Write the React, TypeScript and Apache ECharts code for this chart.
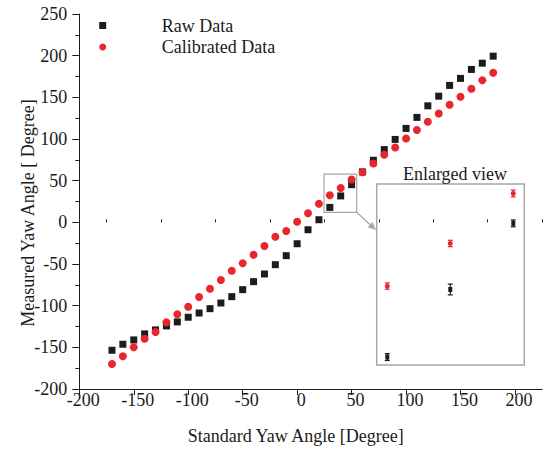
import React, { useEffect, useRef } from "react";
import * as echarts from "echarts";

// ---- data ----
const standardAngles = [
  -170, -160, -150, -140, -130, -120, -110, -100, -90, -80, -70, -60, -50, -40, -30, -20, -10, 0,
  10, 20, 30, 40, 50, 60, 70, 80, 90, 100, 110, 120, 130, 140, 150, 160, 170, 180,
];
const rawData = [
  -153.5, -146.3, -141.1, -133.9, -129.1, -124.3, -119.5, -113.9, -108.8, -103.6, -96.8, -89.2,
  -80.8, -71.2, -62.0, -50.8, -40.0, -25.7, -8.9, 3.1, 17.9, 31.7, 45.2, 60.5, 74.5, 87.3, 99.5,
  112.7, 125.9, 139.8, 151.4, 164.3, 172.7, 183.5, 191.0, 199.4,
];
const calibratedData = [
  -169.9, -160.7, -149.9, -139.6, -131.5, -119.9, -110.3, -101.2, -89.6, -79.6, -69.2, -58.0,
  -49.2, -38.8, -28.4, -17.3, -10.4, 0.7, 10.8, 22.3, 32.4, 41.1, 51.3, 60.0, 70.7, 81.1, 89.9,
  100.7, 110.7, 120.6, 130.7, 141.0, 150.6, 160.2, 170.6, 179.4,
];
// enlarged view: angles and error bars
const insetAngles = [30, 40, 50];
const rawErr = [0.7, 1.1, 0.7];
const calibratedErr = [0.65, 0.65, 0.7];
// zoom window in the main plot
const zoomWindow = { x0: 24.7, x1: 54.7, y0: 12, y1: 57.9 };
// tick labels
const xMajorTicks = [-200, -150, -100, -50, 0, 50, 100, 150, 200];
const xMinorTicks = [-175, -125, -75, -25, 25, 75, 125, 175, 225];

const FONT = "'Liberation Serif', 'Times New Roman', serif";
const TXT = "#1a1a1a";
const BLACK = "#1c1c1c";
const RED = "#e8262b";
const GRAY = "#a6a6a6";

function pairs(vals: number[]) {
  return standardAngles.map((x, i) => [x, vals[i]]);
}
function insetPairs(vals: number[], errs: number[]) {
  return insetAngles.map((x, i) => [x, vals[standardAngles.indexOf(x)], errs[i]]);
}

function errorBar(color: string) {
  return (params: any, api: any) => {
    const x = api.value(0);
    const y = api.value(1);
    const e = api.value(2);
    const top = api.coord([x, y + e]);
    const bot = api.coord([x, y - e]);
    const hw = 2.5;
    const st = { stroke: color, lineWidth: 1.2 };
    return {
      type: "group",
      children: [
        { type: "line", shape: { x1: top[0], y1: top[1], x2: bot[0], y2: bot[1] }, style: st },
        { type: "line", shape: { x1: top[0] - hw, y1: top[1], x2: top[0] + hw, y2: top[1] }, style: st },
        { type: "line", shape: { x1: bot[0] - hw, y1: bot[1], x2: bot[0] + hw, y2: bot[1] }, style: st },
      ],
    };
  };
}

export default function App() {
  const ref = useRef<HTMLDivElement>(null);
  useEffect(() => {
    if (!ref.current) return;
    const chart = echarts.init(ref.current, null, { renderer: "svg" });
    const axisLine = { show: true, onZero: false, lineStyle: { color: BLACK, width: 1 } };
    chart.setOption({
      animation: false,
      backgroundColor: "#ffffff",
      textStyle: { fontFamily: FONT },
      grid: [
        { left: 79.3, top: 14, right: 6.8, bottom: 65, outerBoundsMode: "none" },
        {
          left: 376.7, top: 184, width: 147.6, height: 181, show: true,
          borderColor: GRAY, borderWidth: 1.5, backgroundColor: "transparent", outerBoundsMode: "none",
        },
      ],
      legend: {
        data: [
          { name: "Raw Data", icon: "rect" },
          { name: "Calibrated Data", icon: "circle" },
        ],
        orient: "vertical",
        left: 99.2,
        top: 16.5,
        padding: 0,
        itemWidth: 7,
        itemHeight: 7,
        itemGap: 3.5,
        selectedMode: false,
        textStyle: { fontSize: 18, fontFamily: FONT, color: TXT, padding: [0, 0, 0, 50.5] },
      },
      xAxis: [
        {
          gridIndex: 0, type: "value", min: -200, max: 225, interval: 50,
          axisLine,
          axisTick: { show: true, length: 6, customValues: xMajorTicks, lineStyle: { color: BLACK } },
          axisLabel: {
            customValues: xMajorTicks, margin: 2, fontSize: 18, fontFamily: FONT, color: TXT,
            padding: [0, 0, 0, 8],
          },
          splitLine: { show: false },
          name: "Standard Yaw Angle [Degree]",
          nameLocation: "middle",
          nameGap: 38,
          nameMoveOverlap: false,
          nameTextStyle: { fontSize: 18, fontFamily: FONT, color: TXT, padding: [0, 30, 0, 0] },
        },
        {
          gridIndex: 0, type: "value", min: -200, max: 225, interval: 25,
          axisLine: { show: false },
          axisTick: { show: true, length: 3, customValues: xMinorTicks, lineStyle: { color: BLACK } },
          axisLabel: { show: false },
          splitLine: { show: false },
        },
        { gridIndex: 1, type: "value", min: 28.32, max: 51.75, show: false, splitLine: { show: false } },
      ],
      yAxis: [
        {
          gridIndex: 0, type: "value", min: -200, max: 250, interval: 50,
          axisLine,
          axisTick: { show: true, length: 7, lineStyle: { color: BLACK } },
          minorTick: { show: true, splitNumber: 2, length: 4, lineStyle: { color: BLACK } },
          axisLabel: { margin: 12, fontSize: 18, fontFamily: FONT, color: TXT },
          splitLine: { show: false },
          name: "Measured Yaw Angle [ Degree]",
          nameLocation: "middle",
          nameGap: 42,
          nameMoveOverlap: false,
          nameTextStyle: { fontSize: 18, fontFamily: FONT, color: TXT, padding: [0, 23, 0, 0] },
        },
        { gridIndex: 1, type: "value", min: 16.28, max: 53.24, show: false, splitLine: { show: false } },
      ],
      series: [
        {
          name: "Raw Data", type: "scatter", xAxisIndex: 0, yAxisIndex: 0,
          symbol: "rect", symbolSize: 7, itemStyle: { color: BLACK, opacity: 1 },
          data: pairs(rawData),
          markArea: {
            silent: true,
            itemStyle: { color: "rgba(0,0,0,0)", borderColor: GRAY, borderWidth: 1.2 },
            data: [[{ coord: [zoomWindow.x0, zoomWindow.y0] }, { coord: [zoomWindow.x1, zoomWindow.y1] }]],
          },
        },
        {
          name: "Calibrated Data", type: "scatter", xAxisIndex: 0, yAxisIndex: 0,
          symbol: "circle", symbolSize: 8, itemStyle: { color: RED, opacity: 1 },
          data: pairs(calibratedData),
        },
        {
          name: "raw-err", type: "custom", xAxisIndex: 2, yAxisIndex: 1,
          renderItem: errorBar(BLACK), encode: { x: 0, y: 1 },
          data: insetPairs(rawData, rawErr),
        },
        {
          name: "cal-err", type: "custom", xAxisIndex: 2, yAxisIndex: 1,
          renderItem: errorBar(RED), encode: { x: 0, y: 1 },
          data: insetPairs(calibratedData, calibratedErr),
        },
        {
          name: "raw-inset", type: "scatter", xAxisIndex: 2, yAxisIndex: 1,
          symbol: "rect", symbolSize: [4, 5], itemStyle: { color: BLACK, opacity: 1 },
          data: insetPairs(rawData, rawErr).map((d) => [d[0], d[1]]),
        },
        {
          name: "cal-inset", type: "scatter", xAxisIndex: 2, yAxisIndex: 1,
          symbol: "circle", symbolSize: 5, itemStyle: { color: RED, opacity: 1 },
          data: insetPairs(calibratedData, calibratedErr).map((d) => [d[0], d[1]]),
        },
      ],
      graphic: [
        {
          type: "text", x: 455, y: 174,
          style: { text: "Enlarged view", fontSize: 18, fontFamily: FONT, fill: TXT, align: "center", verticalAlign: "middle" },
        },
        {
          type: "line", shape: { x1: 356.7, y1: 212.3, x2: 371, y2: 225.5 },
          style: { stroke: GRAY, lineWidth: 1.2 },
        },
        {
          type: "polygon", shape: { points: [[376, 230], [367.7, 227.3], [372.4, 222.05]] },
          style: { fill: GRAY },
        },
      ],
    });
    return () => chart.dispose();
  }, []);
  return <div ref={ref} style={{ position: "absolute", left: 0, top: 0, width: 549, height: 454 }} />;
}
